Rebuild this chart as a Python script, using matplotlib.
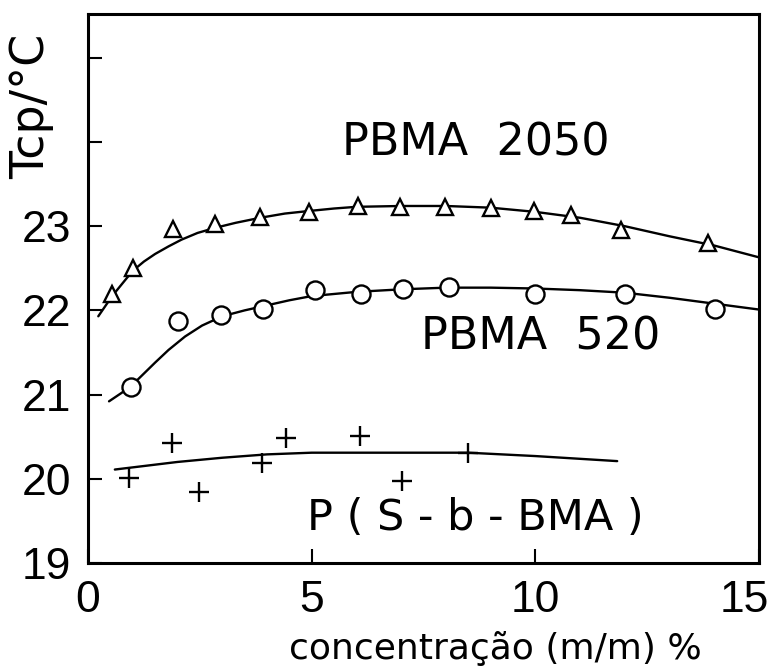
import matplotlib
matplotlib.use("Agg")
import matplotlib.pyplot as plt
import matplotlib.transforms as mtransforms

# measured cloud points, Tcp in degC against concentration in % (m/m)
c_2050 = [0.54, 1.0, 1.89, 2.84, 3.85, 4.93, 6.04, 6.98, 7.98, 9.0, 9.97, 10.79, 11.92, 13.85]
t_2050 = [22.20, 22.50, 22.97, 23.03, 23.11, 23.17, 23.24, 23.23, 23.23, 23.22, 23.18, 23.13, 22.95, 22.80]

c_520 = [0.96, 2.02, 2.97, 3.92, 5.07, 6.10, 7.05, 8.06, 9.99, 12.0, 14.02]
t_520 = [21.09, 21.87, 21.95, 22.02, 22.24, 22.20, 22.25, 22.28, 22.19, 22.20, 22.02]

c_sb = [0.92, 1.87, 2.49, 3.88, 4.43, 6.07, 7.01, 8.50]
t_sb = [20.01, 20.42, 19.84, 20.19, 20.48, 20.51, 19.97, 20.31]

# hand drawn trend curves
fit_c_2050 = [0.23, 0.54, 0.8, 1.0, 1.25, 1.5, 1.8, 2.09, 2.45, 2.84, 3.3, 3.85, 4.4, 4.93, 5.5, 6.0, 7.0, 8.0, 9.0, 10.0, 11.0, 12.0, 13.0, 14.0, 15.0]
fit_t_2050 = [21.93, 22.17, 22.34, 22.47, 22.58, 22.67, 22.76, 22.84, 22.92, 22.98, 23.04, 23.10, 23.15, 23.18, 23.21, 23.23, 23.24, 23.24, 23.22, 23.17, 23.10, 23.0, 22.88, 22.77, 22.63]

fit_c_520 = [0.47, 0.75, 1.0, 1.25, 1.5, 1.8, 2.17, 2.55, 3.0, 3.5, 4.0, 4.5, 5.0, 6.0, 7.0, 8.0, 9.0, 10.0, 11.0, 12.0, 13.0, 14.0, 15.0]
fit_t_520 = [20.92, 21.02, 21.12, 21.25, 21.38, 21.53, 21.69, 21.82, 21.93, 22.0, 22.06, 22.12, 22.17, 22.22, 22.25, 22.27, 22.27, 22.26, 22.24, 22.21, 22.15, 22.08, 22.01]

fit_c_sb = [0.6, 2.0, 3.0, 4.0, 5.0, 6.0, 7.0, 8.5, 10.0, 11.83]
fit_t_sb = [20.11, 20.20, 20.25, 20.29, 20.31, 20.31, 20.31, 20.31, 20.27, 20.21]

y_ticks = [19, 20, 21, 22, 23, 24, 25]
y_tick_labels = ["19", "20", "21", "22", "23", "", ""]
x_ticks = [0, 5, 10, 15]

plt.rcParams["font.family"] = ["DejaVu Sans"]

fig = plt.figure(figsize=(7.73, 6.70), dpi=100)
ax = fig.add_axes([88 / 773, 107 / 670, 671 / 773, 549 / 670])

for fx, fy in [(fit_c_2050, fit_t_2050), (fit_c_520, fit_t_520), (fit_c_sb, fit_t_sb)]:
    ax.plot(fx, fy, color="black", lw=1.7, zorder=2, solid_capstyle="round", solid_joinstyle="round")

ax.plot(c_2050, t_2050, ls="none", marker="^", ms=12, mfc="white", mec="black", mew=1.7, zorder=3)
ax.plot(c_520, t_520, ls="none", marker="o", ms=13, mfc="white", mec="black", mew=1.7, zorder=3)
ax.plot(c_sb, t_sb, ls="none", marker="+", ms=15, mec="black", mew=1.7, zorder=3)

ax.text(8.67, 23.99, "PBMA  2050", fontsize=32, ha="center", va="center")
ax.text(10.13, 21.68, "PBMA  520", fontsize=32, ha="center", va="center")
ax.text(8.65, 19.53, "P ( S - b - BMA )", fontsize=31, ha="center", va="center")

ax.set_xlim(0, 15)
ax.set_ylim(19, 25.52)
ax.set_xticks(x_ticks)
ax.set_xticklabels([str(v) for v in x_ticks])
ax.set_yticks(y_ticks)
ax.set_yticklabels(y_tick_labels)
ax.tick_params(axis="both", direction="in", length=10, width=1.5, labelsize=32)
ax.tick_params(axis="y", pad=12)
ax.tick_params(axis="x", pad=12)
for lab in ax.get_xticklabels() + ax.get_yticklabels():
    lab.set_fontfamily("Liberation Sans")
# last x label sits against the figure edge
last = ax.get_xticklabels()[-1]
last.set_ha("right")
last.set_transform(last.get_transform() + mtransforms.ScaledTranslation(10 / 100, 0, fig.dpi_scale_trans))
for s in ax.spines.values():
    s.set_linewidth(2.2)

fig.text(32 / 773, 1 - 106 / 670, "Tcp/°C", rotation=90, fontsize=33, ha="center", va="center")
fig.text(495 / 773, 1 - 648 / 670, "concentração (m/m) %", fontsize=26, ha="center", va="center")

fig.savefig("out.png", dpi=100)
